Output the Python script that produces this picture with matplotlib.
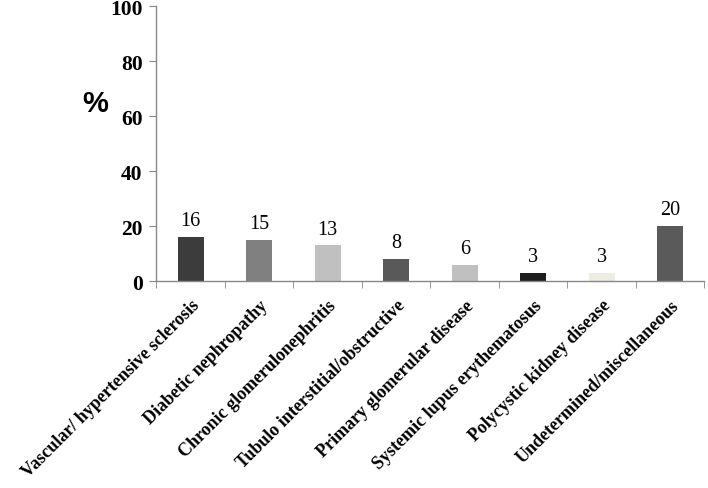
import matplotlib.pyplot as plt
import numpy as np

categories = ['Vascular/ hypertensive sclerosis', 'Diabetic nephropathy',
              'Chronic glomerulonephritis', 'Tubulo interstitial/obstructive',
              'Primary glomerular disease', 'Systemic lupus erythematosus',
              'Polycystic kidney disease', 'Undetermined/miscellaneous']
values = [16, 15, 13, 8, 6, 3, 3, 20]
colors = ['#3c3c3c', '#808080', '#c0c0c0', '#595959', '#c0c0c0', '#1e1e1e', '#eeede2', '#5a5a5a']
yticks = [0, 20, 40, 60, 80, 100]

fig = plt.figure(figsize=(7.08, 4.89), dpi=100)
ax = fig.add_axes([0.221, 0.423, 0.774, 0.562])

x = np.arange(len(categories))
ax.bar(x, values, width=0.38, color=colors)
for xi, v in zip(x, values):
    ax.text(xi, v + 2.5, str(v), ha='center', va='bottom', fontsize=14.5,
            family='Liberation Serif')

ax.set_xlim(-0.5, len(categories) - 0.5)
ax.set_ylim(0, 100)
ax.set_yticks(yticks)
ax.set_yticklabels([str(t) for t in yticks], fontsize=15.5, fontweight='bold',
                   family='Liberation Serif')
ax.set_xticks(x)
ax.set_xticklabels(categories, rotation=45, ha='right', va='top', rotation_mode='anchor',
                   fontsize=13, fontweight='bold', family='Liberation Serif')
ax.tick_params(axis='x', length=0, pad=11)
ax.set_xticks(np.arange(-0.5, len(categories)), minor=True)
ax.tick_params(axis='x', which='minor', length=5, color='#888888')
ax.tick_params(axis='y', length=5, color='#888888', pad=5)

for s in ['top', 'right']:
    ax.spines[s].set_visible(False)
for s in ['left', 'bottom']:
    ax.spines[s].set_color('#888888')
    ax.spines[s].set_linewidth(1)

fig.text(0.135, 0.787, '%', fontsize=21, fontweight='bold',
         family='Liberation Sans', ha='center', va='center')

fig.savefig('out.png', dpi=100)
